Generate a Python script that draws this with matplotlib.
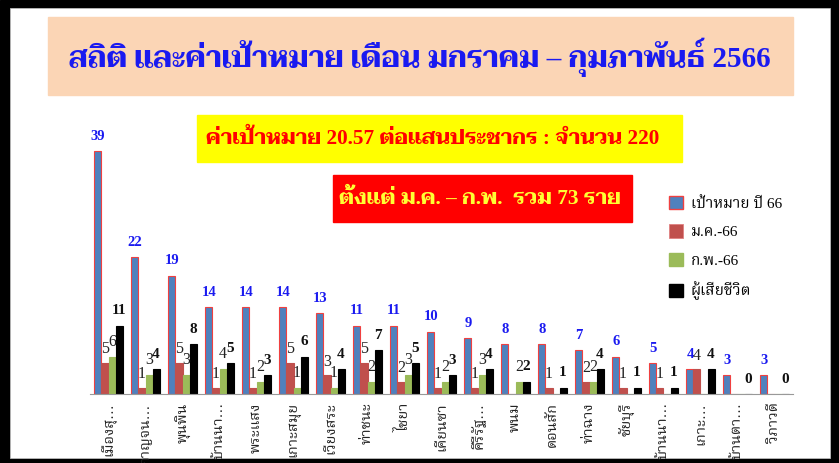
import matplotlib
matplotlib.use("Agg")
import matplotlib.pyplot as plt
import numpy as np
from matplotlib.patches import Rectangle, Patch

# ---- data ----
categories = ["เมืองสุ…", "กาญจน…", "พุนพิน", "บ้านนา…", "พระแสง", "เกาะสมุย",
              "เวียงสระ", "ท่าชนะ", "ไชยา", "เคียนซา", "คีรีรัฐ…", "พนม", "ดอนสัก",
              "ท่าฉาง", "ชัยบุรี", "บ้านนา…", "เกาะ…", "บ้านตา…", "วิภาวดี"]
target_66 = [39, 22, 19, 14, 14, 14, 13, 11, 11, 10, 9, 8, 8, 7, 6, 5, 4, 3, 3]
jan_66 = [5, 1, 5, 1, 1, 5, 3, 5, 2, 1, 1, np.nan, 1, 2, 1, 1, 4, np.nan, np.nan]
feb_66 = [6, 3, 3, 4, 2, 1, 1, 2, 3, 2, 3, 2, np.nan, 2, np.nan, np.nan, np.nan, np.nan, np.nan]
deaths = [11, 4, 8, 5, 3, 6, 4, 7, 5, 3, 4, 2, 1, 4, 1, 1, 4, 0, 0]
series_names = ["เป้าหมาย ปี 66", "ม.ค.-66", "ก.พ.-66", "ผู้เสียชีวิต"]

title = "สถิติ และค่าเป้าหมาย เดือน มกราคม – กุมภาพันธ์ 2566"
box1 = "ค่าเป้าหมาย 20.57 ต่อแสนประชากร : จำนวน 220"
box2 = "ตั้งแต่ ม.ค. – ก.พ.  รวม 73 ราย"

SERIF = ["Liberation Serif", "Taviraj", "DejaVu Sans"]
THAI_B = ["Liberation Serif", "Taviraj", "DejaVu Sans"]
THAI = ["Liberation Serif", "Noto Serif Thai", "DejaVu Sans"]

W, H = 839, 463
fig = plt.figure(figsize=(W / 100, H / 100), dpi=100)

def fx(px):
    return px / W

def fy(py):
    return (H - py) / H

# slide frame
fig.patches.append(Rectangle((0, 0), 1, 1, transform=fig.transFigure, color="black", zorder=-10))
fig.patches.append(Rectangle((fx(10), fy(458)), fx(820), 450 / H, transform=fig.transFigure,
                             facecolor="white", edgecolor="#bbbbbb", lw=0.6, zorder=-9))

# title box
fig.patches.append(Rectangle((fx(48), fy(95)), fx(745), 78 / H, transform=fig.transFigure,
                             color="#FBD5B5", zorder=-8))
fig.text(fx(420), fy(57), title, ha="center", va="center", fontsize=21, fontweight="bold",
         color="#1A1AF0", family=THAI_B)

# yellow box
fig.patches.append(Rectangle((fx(197), fy(162)), fx(485), 47 / H, transform=fig.transFigure,
                             color="#FFFF00", zorder=-8))
fig.text(fx(433), fy(139), box1, ha="center", va="center", fontsize=15.3, fontweight="bold",
         color="#FF0000", family=THAI_B)

# red box
fig.patches.append(Rectangle((fx(333), fy(222)), fx(299), 47 / H, transform=fig.transFigure,
                             color="#FF0000", zorder=-8))
fig.text(fx(480), fy(199), box2, ha="center", va="center", fontsize=15.3, fontweight="bold",
         color="#FFFF33", family=THAI_B)

# axes
ax = fig.add_axes([fx(90), fy(394), fx(703), 249 / H])
ax.set_facecolor("none")
n = len(categories)
x = np.arange(n)
w = 0.19
colors = ["#4F81BD", "#C0504D", "#9BBB59", "#000000"]
edges = ["#F04040", "#C0504D", "#9BBB59", "#000000"]
data = [target_66, jan_66, feb_66, deaths]
offsets = [-1.5 * w, -0.5 * w, 0.5 * w, 1.5 * w]
lab_col = ["#1A1AF0", "#222222", "#222222", "#111111"]
lab_wt = ["bold", "normal", "normal", "bold"]
lab_sz = [10.5, 11.5, 11.5, 11]
lab_off = [6, 4, 5, 6]
for vals, off, c, ec, lc, lw_, ls, lo in zip(data, offsets, colors, edges, lab_col, lab_wt, lab_sz, lab_off):
    v = np.array(vals, dtype=float)
    ax.bar(x + off, np.nan_to_num(v), width=w, color=c, edgecolor=ec, linewidth=0.8)
    for xi, vi in zip(x + off, v):
        if np.isnan(vi):
            continue
        ax.annotate(f"{int(vi)}", (xi, vi), xytext=(0, lo), textcoords="offset points",
                    ha="center", va="bottom", fontsize=ls, fontweight=lw_, color=lc,
                    family=SERIF)

ax.set_xlim(-0.5, n - 0.5)
ax.set_ylim(0, 40)
for s in ["top", "left", "right"]:
    ax.spines[s].set_visible(False)
ax.spines["bottom"].set_color("#999999")
ax.set_yticks([])
ax.set_xticks(x)
ax.set_xticklabels(categories, rotation=90, fontsize=10.5, family=THAI, color="#222222")
ax.tick_params(axis="x", length=0, pad=6)

handles = [Patch(facecolor=colors[0], edgecolor="#F04040", lw=1),
           Patch(facecolor=colors[1], edgecolor="#E08080", lw=0.6),
           Patch(facecolor=colors[2], edgecolor=colors[2]),
           Patch(facecolor=colors[3], edgecolor=colors[3])]
leg = fig.legend(handles, series_names, loc="upper left", bbox_to_anchor=(fx(655), fy(182)),
                 frameon=False, handlelength=0.95, handleheight=0.95, handletextpad=0.5,
                 labelspacing=0.9, prop={"family": THAI, "size": 11})

fig.savefig("out.png", dpi=100)
